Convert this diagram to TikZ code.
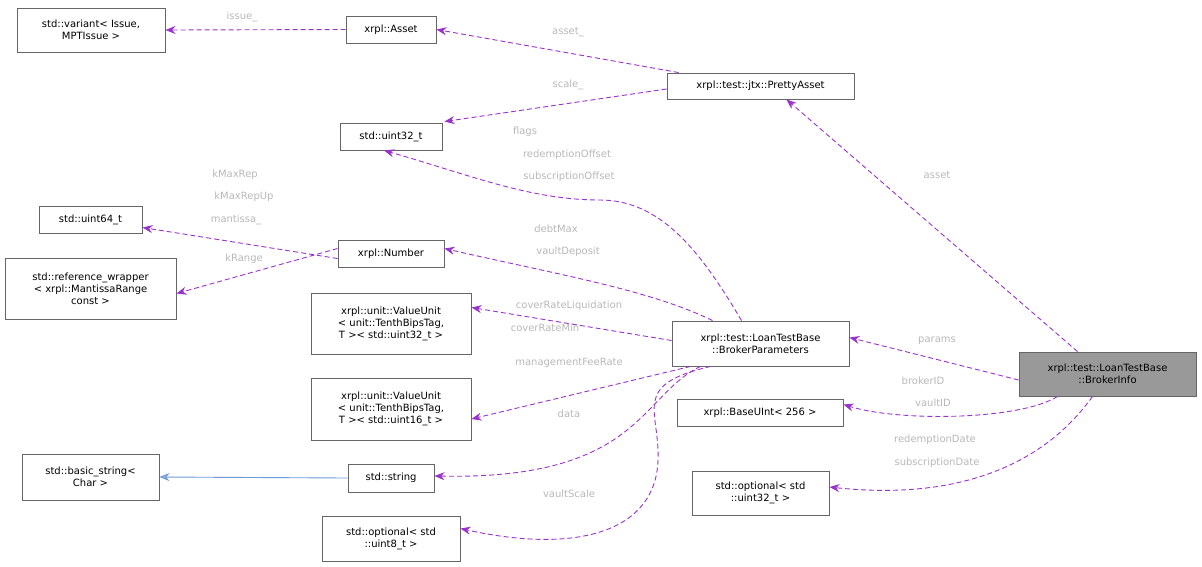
\documentclass[tikz,border=0pt]{standalone}
\usepackage{fontspec}
\setmainfont{DejaVu Sans}
\usetikzlibrary{arrows.meta}
\definecolor{edge}{HTML}{9A32CD}
\definecolor{lbl}{HTML}{B8B8B8}
\definecolor{bord}{HTML}{666666}
\begin{document}
\begin{tikzpicture}[x=1pt,y=-1pt,
  box/.style={draw=bord,line width=0.9pt,inner sep=0pt,align=center,font=\fontsize{10}{12}\selectfont},
  dep/.style={draw=edge,line width=0.9pt,dash pattern=on 5pt off 3pt,-{Stealth[length=10pt,width=8pt,fill=edge]}},
  inh/.style={draw=cyan!50!blue!60,line width=0.9pt,-{Stealth[length=10pt,width=8pt,fill=cyan!50!blue!40]}},
  lab/.style={text=lbl,font=\fontsize{10}{12}\selectfont,inner sep=0pt}]
\useasboundingbox (0,0) rectangle (1202,566);
\newcommand\bx[7]{\node[box,minimum width=#4-#2,minimum height=#5-#3,#6] (#1) at ({(#2+#4)/2},{(#3+#5)/2}) {#7};}
\bx{variant}{17}{8}{165}{52}{}{std::variant< Issue,\\ MPTIssue >}
\bx{asset}{346}{16}{436}{43}{}{xrpl::Asset}
\bx{pretty}{667}{73}{854}{99}{}{xrpl::test::jtx::PrettyAsset}
\bx{u32}{340}{123}{442}{150}{}{std::uint32\_t}
\bx{u64}{39}{206}{142}{233}{}{std::uint64\_t}
\bx{number}{338}{240}{444}{267}{}{xrpl::Number}
\bx{refw}{5}{258}{176}{319}{}{std::reference\_wrapper\\< xrpl::MantissaRange\\ const >}
\bx{vu32}{311}{293}{471}{354}{}{xrpl::unit::ValueUnit\\< unit::TenthBipsTag,\\ T >< std::uint32\_t >}
\bx{vu16}{311}{378}{471}{440}{}{xrpl::unit::ValueUnit\\< unit::TenthBipsTag,\\ T >< std::uint16\_t >}
\bx{bp}{672}{321}{849}{366}{}{xrpl::test::LoanTestBase\\::BrokerParameters}
\bx{buint}{677}{399}{843}{426}{}{xrpl::BaseUInt< 256 >}
\bx{bi}{1019}{352}{1196}{396}{fill=black!40}{xrpl::test::LoanTestBase\\::BrokerInfo}
\bx{bstr}{22}{454}{159}{500}{}{std::basic\_string<\\ Char >}
\bx{str}{348}{464}{434}{492}{}{std::string}
\bx{opt32}{692}{471}{829}{515}{}{std::optional< std\\ ::uint32\_t >}
\bx{opt8}{322}{516}{460}{561}{}{std::optional< std\\ ::uint8\_t >}

\draw[dep] (asset.west) -- (variant.east);
\node[lab] at (242,17) {issue\_};
\draw[dep] (pretty.north west)++(12,0) -- (asset.east);
\node[lab] at (568,32) {asset\_};
\draw[dep] ([yshift=-3pt]pretty.west) -- ([xshift=2pt,yshift=1pt]u32.north east);
\node[lab] at (568,85) {scale\_};
\draw[dep] ([xshift=-19pt]bp.north) .. controls (700,250) and (660,200) .. (600,200) .. controls (530,200) and (470,175) .. ([xshift=-7pt]u32.south);
\node[lab] at (525,132) {flags};
\node[lab] at (567,155) {redemptionOffset};
\node[lab] at (569,177) {subscriptionOffset};
\draw[dep] ([yshift=-5pt]number.west) -- ([yshift=-8pt]u64.east);
\node[lab] at (235,175) {kMaxRep};
\node[lab] at (244,197) {kMaxRepUp};
\node[lab] at (236,220) {mantissa\_};
\draw[dep] ([yshift=5pt]number.west) -- ([yshift=-5pt]refw.east);
\node[lab] at (244,259) {kRange};
\draw[dep] ([xshift=-48pt]bp.north) .. controls (650,290) and (560,275) .. ([yshift=5pt]number.east);
\node[lab] at (556,229) {debtMax};
\node[lab] at (568,252) {vaultDeposit};
\draw[dep] ([yshift=3pt]bp.west) -- ([yshift=16pt]vu32.east);
\node[lab] at (569,306) {coverRateLiquidation};
\node[lab] at (545,328) {coverRateMin};
\draw[dep] ([xshift=-70pt]bp.south) -- ([yshift=-10pt]vu16.east);
\node[lab] at (569,363) {managementFeeRate};
\draw[dep] ([xshift=-60pt]bp.south) .. controls (640,395) and (640,480) .. ([yshift=2pt]str.east);
\node[lab] at (569,414) {data};
\draw[dep] ([xshift=-50pt]bp.south) .. controls (630,385) and (660,410) .. (658,460) .. controls (656,530) and (580,555) .. ([yshift=10pt]opt8.east);
\node[lab] at (569,494) {vaultScale};
\draw[inh] (str.west) -- (bstr.east);
\draw[dep] ([xshift=-30pt]bi.north) -- ([xshift=26pt]pretty.south);
\node[lab] at (937,175) {asset};
\draw[dep] ([yshift=-6pt]bi.west) -- ([yshift=6pt]bp.east);
\node[lab] at (937,341) {params};
\draw[dep] ([xshift=-50pt]bi.south) .. controls (1020,420) and (900,422) .. ([yshift=8pt]buint.east);
\node[lab] at (923,381) {brokerID};
\node[lab] at (933,403) {vaultID};
\draw[dep] ([xshift=-15pt]bi.south) .. controls (1040,470) and (950,500) .. ([yshift=6pt]opt32.east);
\node[lab] at (935,440) {redemptionDate};
\node[lab] at (937,463) {subscriptionDate};
\end{tikzpicture}
\end{document}
